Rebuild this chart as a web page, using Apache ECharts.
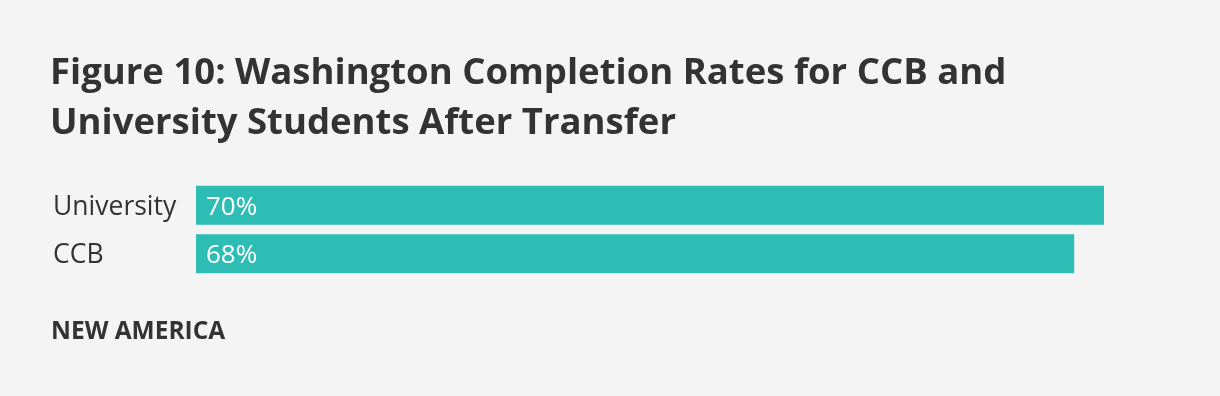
<!DOCTYPE html>
<html><head><meta charset="utf-8">
<script src="https://cdn.jsdelivr.net/npm/echarts@6/dist/echarts.min.js"></script>
<style>html,body{margin:0;padding:0;background:#f4f4f4}#c{width:1220px;height:396px}</style>
</head><body><div id="c"></div>
<script>
const categories = ['University', 'CCB'];
const values = [70.0, 67.7];
const labels = ['70%', '68%'];
const chart = echarts.init(document.getElementById('c'));
chart.setOption({
  backgroundColor: '#f4f4f4',
  animation: false,
  title: [{
    text: 'Figure 10: Washington Completion Rates for CCB and\nUniversity Students After Transfer',
    left: 45, top: 44, padding: 5,
    textStyle: {fontFamily: 'Open Sans', fontWeight: 'bold', fontSize: 36.5, lineHeight: 50, color: '#333'}
  }, {
    text: 'NEW AMERICA', left: 46, top: 315, padding: 5,
    textStyle: {fontFamily: 'Open Sans', fontWeight: 'bold', fontSize: 24.5, color: '#333'}
  }],
  grid: {left: 196, top: 181, width: 908, height: 97},
  xAxis: {type: 'value', min: 0, max: 70, show: false},
  yAxis: {
    type: 'category', data: categories, inverse: true,
    axisLine: {show: false}, axisTick: {show: false},
    axisLabel: {align: 'left', verticalAlign: 'top', lineHeight: 4, margin: 143, fontFamily: 'Open Sans', fontSize: 26.5, color: '#333'}
  },
  series: [{
    type: 'bar', data: values, barWidth: 39,
    itemStyle: {color: '#2ebdb4'},
    label: {show: true, position: 'insideLeft', distance: 10, offset: [0, 2], color: '#fff', fontFamily: 'Open Sans', fontSize: 26,
      formatter: p => labels[p.dataIndex]}
  }]
});
</script></body></html>
